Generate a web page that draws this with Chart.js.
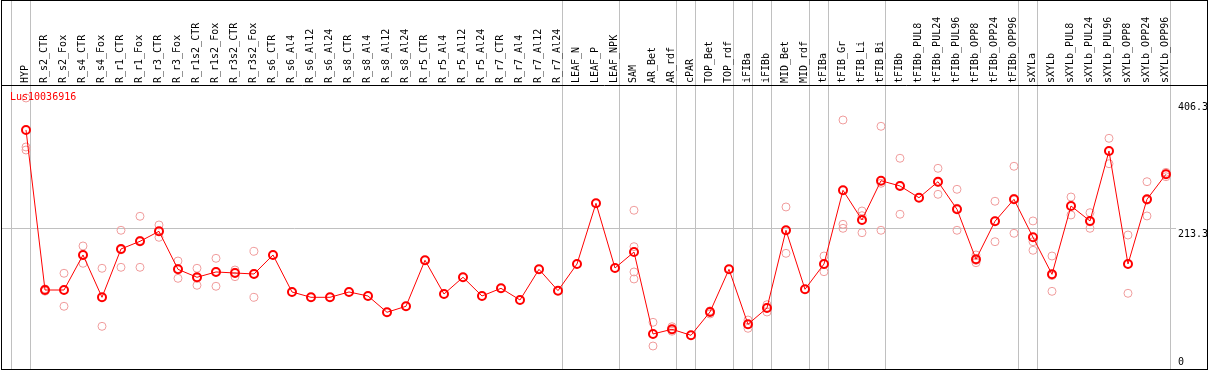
<!DOCTYPE html>
<html><head><meta charset="utf-8">
<script src="https://cdn.jsdelivr.net/npm/chart.js@4.4.1/dist/chart.umd.min.js"></script>
<style>html,body{margin:0;padding:0;background:#fff;overflow:hidden}#wrap{width:1209px;height:370px}</style>
</head><body><div id="wrap"><canvas id="c" width="1209" height="370"></canvas></div>
<script>
const geneName = 'Lus10036916';
const categories = ['HYP','R_s2_CTR','R_s2_Fox','R_s4_CTR','R_s4_Fox','R_r1_CTR','R_r1_Fox','R_r3_CTR','R_r3_Fox','R_r1s2_CTR','R_r1s2_Fox','R_r3s2_CTR','R_r3s2_Fox','R_s6_CTR','R_s6_Al4','R_s6_Al12','R_s6_Al24','R_s8_CTR','R_s8_Al4','R_s8_Al12','R_s8_Al24','R_r5_CTR','R_r5_Al4','R_r5_Al12','R_r5_Al24','R_r7_CTR','R_r7_Al4','R_r7_Al12','R_r7_Al24','LEAF_N','LEAF_P','LEAF_NPK','SAM','AR_Bet','AR_rdf','cPAR','TOP_Bet','TOP_rdf','iFIBa','iFIBb','MID_Bet','MID_rdf','tFIBa','tFIB_Gr','tFIB_Li','tFIB_Bi','tFIBb','tFIBb_PUL8','tFIBb_PUL24','tFIBb_PUL96','tFIBb_OPP8','tFIBb_OPP24','tFIBb_OPP96','sXYLa','sXYLb','sXYLb_PUL8','sXYLb_PUL24','sXYLb_PUL96','sXYLb_OPP8','sXYLb_OPP24','sXYLb_OPP96'];
const means = [362.6,118.8,118.8,172.2,107.7,181.3,193.0,208.2,150.3,138.2,146.3,144.7,143.2,172.2,115.8,107.7,107.7,115.8,109.7,84.9,94.0,164.1,112.7,138.2,109.7,121.4,103.6,150.3,117.8,158.4,250.9,152.3,176.7,51.8,59.0,49.8,85.3,150.3,66.6,91.4,209.8,119.9,158.4,270.7,225.5,285.3,277.3,259.4,283.8,241.8,165.6,223.5,257.0,199.1,142.7,246.8,224.0,330.6,158.4,257.0,295.1];
const replicates = [
 [411.3,336.7,332.1],[120.5,118.8,117.0],[144.3,118.8,94.0],[185.9,172.2,159.5],[151.9,107.7,63.5],
 [209.8,180.0,153.4],[231.1,194.4,153.4],[217.9,207.6,199.1],[163.0,151.4,136.6],[151.9,136.6,126.0],
 [167.1,147.0,124.5],[149.3,145.8,139.1],[177.8,144.0,107.7],[172.2],[115.8],
 [107.7],[107.7],[115.8],[109.7],[84.9],
 [94.0],[164.1],[112.7],[138.2],[109.7],
 [121.4],[103.6],[150.3],[117.8],[158.4],
 [250.9],[152.3],[240.3,184.8,146.3,135.6],[69.6,52.0,33.5],[62.9,58.0,56.0],
 [49.8],[87.0,82.3,86.6],[150.3],[73.1,66.2,60.5],[96.4,92.5,85.3],
 [245.3,209.4,174.7],[119.9],[170.6,158.0,146.7],[377.8,218.9,212.8],[239.2,232.0,206.1],
 [368.2,281.4,209.8],[319.5,278.2,234.2],[259.4],[304.2,282.6,264.6],[272.2,243.4,209.8],
 [172.2,164.0,160.4],[254.0,224.0,192.4],[307.3,258.5,205.2],[224.0,192.4,179.3],[170.6,140.8,116.8],
 [260.5,246.8,233.1],[236.6,222.6,212.8],[349.9,330.7,311.2],[202.6,158.8,113.8],[283.8,255.6,231.6],
 [298.1,295.8,291.4]
];
const groupBreaks = [-1,0,28,31,34,35,37,38,39,41,42,45,52,53,60];
const yTickValues = [0,213.3,406.3];
const refLine = 213.3;

const meanPts = means.map((v,i)=>({x:i,y:v}));
const repPts = [];
replicates.forEach((arr,i)=>arr.forEach(v=>repPts.push({x:i,y:v})));

const FONT = '10px "DejaVu Sans Mono", monospace';

const decor = {
  id:'decor',
  beforeDatasetsDraw(chart){
    const {ctx, scales:{x,y}, chartArea:ca} = chart;
    ctx.save();
    ctx.strokeStyle = '#c0c0c0';
    ctx.lineWidth = 1;
    groupBreaks.forEach(b=>{
      const px = Math.round(x.getPixelForValue(b+0.21))+0.5;
      ctx.beginPath(); ctx.moveTo(px,0); ctx.lineTo(px,369); ctx.stroke();
    });
    const py = Math.round(y.getPixelForValue(refLine))+0.5;
    ctx.beginPath(); ctx.moveTo(ca.left,py); ctx.lineTo(1176,py); ctx.stroke();
    ctx.restore();
  },
  afterDatasetsDraw(chart){
    const {ctx, scales:{x,y}} = chart;
    ctx.save();
    ctx.fillStyle = '#000';
    ctx.font = FONT;
    categories.forEach((c,i)=>{
      const px = x.getPixelForValue(i);
      ctx.save();
      ctx.translate(px-0.5, 83);
      ctx.rotate(-Math.PI/2);
      ctx.textAlign='left'; ctx.textBaseline='middle';
      ctx.fillText(c,0,0);
      ctx.restore();
    });
    ctx.textAlign='left';
    yTickValues.forEach(v=>{
      const py = y.getPixelForValue(v);
      if (v===0){ ctx.textBaseline='bottom'; ctx.fillText(String(v),1178,py-1); }
      else { ctx.textBaseline='top'; ctx.fillText(String(v),1178,py+1); }
    });
    ctx.fillStyle='#ff0000';
    ctx.textBaseline='middle';
    ctx.fillText(geneName,10,97);
    ctx.strokeStyle='#000'; ctx.lineWidth=1;
    ctx.strokeRect(1.5,0.5,1206,369);
    ctx.beginPath(); ctx.moveTo(1,85.5); ctx.lineTo(1208,85.5); ctx.stroke();
    ctx.restore();
  }
};

new Chart(document.getElementById('c'), {
  type:'line',
  data:{datasets:[
    {label:'mean', data:meanPts, borderColor:'#ff0000', borderWidth:1, tension:0,
     pointRadius:4, pointBorderWidth:2, pointBorderColor:'#ff0000', pointBackgroundColor:'rgba(0,0,0,0)', order:1},
    {label:'replicates', type:'scatter', data:repPts, showLine:false,
     pointRadius:4, pointBorderWidth:1, pointBorderColor:'#f09c9c', pointBackgroundColor:'rgba(0,0,0,0)', order:2}
  ]},
  options:{
    responsive:false, animation:false, devicePixelRatio:1,
    layout:{autoPadding:false, padding:{left:1,right:2,top:85,bottom:2}},
    plugins:{legend:{display:false}, tooltip:{enabled:false}},
    scales:{
      x:{type:'linear', min:-1.3158, max:62.158, display:false},
      y:{type:'linear', min:0, max:431.1, display:false}
    }
  },
  plugins:[decor]
});
</script></body></html>
